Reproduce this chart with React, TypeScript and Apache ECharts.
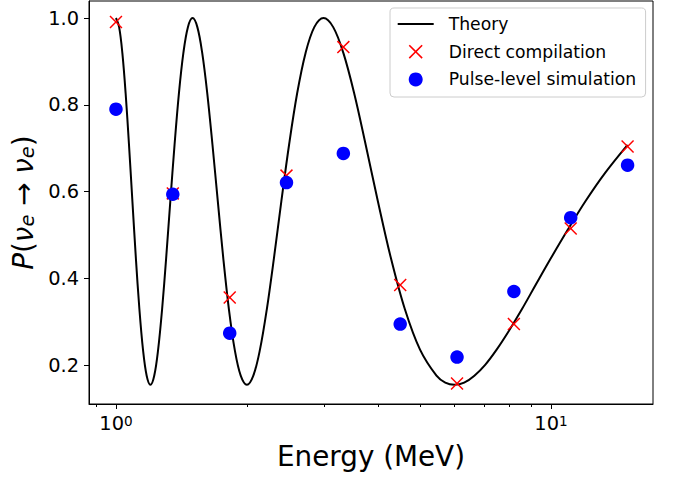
import React, { useEffect, useRef } from "react";
import * as echarts from "echarts";

// Measurement energies (MeV)
const energies = [1.0, 1.351, 1.826, 2.466, 3.332, 4.502, 6.082, 8.217, 11.1, 15.0];
// Direct compilation results
const directP = [0.991, 0.596, 0.356, 0.637, 0.933, 0.385, 0.158, 0.295, 0.515, 0.704];
// Pulse-level simulation results
const pulseP = [0.79, 0.594, 0.274, 0.621, 0.688, 0.295, 0.219, 0.37, 0.54, 0.661];

// Theory curve
const theoryE = [
  1.0, 1.0169, 1.0345, 1.0526, 1.0714, 1.0909, 1.1111, 1.1321, 1.1538, 1.1765, 1.2,
  1.2245, 1.25, 1.2766, 1.3043, 1.3333, 1.3636, 1.3953, 1.4286, 1.4634, 1.5,
  1.5385, 1.5789, 1.6216, 1.6667, 1.7143, 1.7647, 1.8182, 1.875, 1.9355, 2.0,
  2.069, 2.1429, 2.2222, 2.3077, 2.4, 2.5, 2.6087, 2.7273, 2.8571, 3.0,
  3.1579, 3.3333, 3.5294, 3.75, 4.0, 4.2857, 4.6154, 5.0, 5.4545, 5.7143, 6.0,
  6.3158, 6.6667, 7.0588, 7.5, 8.0, 8.5714, 9.2308, 10.0, 10.909, 12.0, 13.333, 15.0,
];
const theoryP = [
  1.0, 0.979, 0.919, 0.826, 0.708, 0.578, 0.447, 0.329, 0.236, 0.176, 0.155,
  0.176, 0.236, 0.329, 0.447, 0.578, 0.708, 0.826, 0.919, 0.979, 1.0,
  0.979, 0.919, 0.826, 0.708, 0.578, 0.447, 0.329, 0.236, 0.176, 0.155,
  0.176, 0.236, 0.329, 0.447, 0.578, 0.708, 0.826, 0.919, 0.979, 1.0,
  0.979, 0.919, 0.826, 0.708, 0.578, 0.447, 0.329, 0.236, 0.176, 0.16, 0.155,
  0.16, 0.176, 0.201, 0.236, 0.279, 0.329, 0.386, 0.447, 0.511, 0.578, 0.644, 0.708,
];

const yTicks = [0.2, 0.4, 0.6, 0.8, 1.0];
const xMajorTicks = [1, 10];
const xMinorTicks = [0.9, 2, 3, 4, 5, 6, 7, 8, 9];

const X_MIN = 0.867;
const X_MAX = 17.16;
const Y_MIN = 0.1108;
const Y_MAX = 1.0392;

const FONT = "DejaVu Sans";
const X_PATH =
  "path://M0,8 L8,0 L50,42 L92,0 L100,8 L58,50 L100,92 L92,100 L50,58 L8,100 L0,92 L42,50 Z";

export default function App() {
  const ref = useRef<HTMLDivElement>(null);

  useEffect(() => {
    document.body.style.margin = "0";
    if (!ref.current) return;
    const chart = echarts.init(ref.current, null, { renderer: "svg" });
    const option: any = {
      animation: false,
      textStyle: { fontFamily: FONT },
      grid: {
        left: 89,
        right: 23,
        top: 1,
        bottom: 73,
        show: true,
        borderColor: "#000",
        borderWidth: 1,
        backgroundColor: "transparent",
      },
      legend: {
        orient: "vertical",
        left: 390,
        top: 8,
        itemWidth: 36,
        itemHeight: 14,
        itemGap: 10.5,
        padding: [7.4, 9.5, 9, 6.7],
        backgroundColor: "rgba(255,255,255,0.8)",
        borderColor: "#cccccc",
        borderWidth: 1,
        borderRadius: 4,
        textStyle: {
          fontFamily: FONT,
          fontSize: 17.2,
          lineHeight: 17.2,
          color: "#000",
          padding: [0, 0, 0, 10],
        },
        data: [
          { name: "Theory", itemStyle: { opacity: 0 } },
          "Direct compilation",
          "Pulse-level simulation",
        ],
      },
      xAxis: {
        type: "log",
        logBase: 10,
        min: X_MIN,
        max: X_MAX,
        name: "Energy (MeV)",
        nameLocation: "middle",
        nameGap: 38,
        nameTextStyle: { fontFamily: FONT, fontSize: 27.8, color: "#000" },
        axisLine: { show: true, lineStyle: { color: "#000", width: 1 } },
        axisTick: { show: false },
        minorTick: { show: false },
        splitLine: { show: false },
        minorSplitLine: { show: false },
        axisLabel: {
          showMinLabel: false,
          showMaxLabel: false,
          margin: 10,
          formatter: (v: number) => {
            const p = Math.round(Math.log10(v));
            if (Math.abs(Math.log10(v) - p) > 1e-6) return "";
            return "{b|10}{s|" + p + "}";
          },
          rich: {
            b: { fontFamily: FONT, fontSize: 19.4, lineHeight: 19.4, color: "#000" },
            s: {
              fontFamily: FONT,
              fontSize: 13.6,
              lineHeight: 12,
              verticalAlign: "top",
              color: "#000",
            },
          },
        },
      },
      yAxis: {
        type: "value",
        min: Y_MIN,
        max: Y_MAX,
        name: "{i|P}{n|(}{i|ν}{s|e}{n| → }{i|ν}{s|e}{n|)}",
        nameLocation: "middle",
        nameRotate: 90,
        nameGap: 52,
        nameTextStyle: {
          fontFamily: FONT,
          fontSize: 27.8,
          color: "#000",
          rich: {
            i: { fontFamily: FONT, fontSize: 27.8, lineHeight: 28, fontStyle: "italic", color: "#000" },
            n: { fontFamily: FONT, fontSize: 27.8, lineHeight: 28, color: "#000" },
            s: {
              fontFamily: FONT,
              fontSize: 19.5,
              lineHeight: 12,
              fontStyle: "italic",
              verticalAlign: "bottom",
              color: "#000",
            },
          },
        },
        axisLine: { show: true, lineStyle: { color: "#000", width: 1 } },
        axisTick: {
          show: true,
          customValues: yTicks,
          length: 5,
          lineStyle: { color: "#000", width: 1 },
        },
        splitLine: { show: false },
        axisLabel: {
          customValues: yTicks,
          margin: 10,
          fontFamily: FONT,
          fontSize: 19.4,
          color: "#000",
          formatter: (v: number) => v.toFixed(1),
        },
      },
      series: [
        {
          name: "Theory",
          type: "line",
          data: theoryE.map((e, i) => [e, theoryP[i]]),
          showSymbol: false,
          symbol: "none",
          smooth: 0.35,
          lineStyle: { color: "#000", width: 2 },
          itemStyle: { color: "#000" },
          z: 2,
        },
        {
          name: "Direct compilation",
          type: "scatter",
          data: energies.map((e, i) => [e, directP[i]]),
          symbol: X_PATH,
          symbolSize: 13,
          itemStyle: { color: "#ff0000", opacity: 1 },
          z: 3,
        },
        {
          name: "Pulse-level simulation",
          type: "scatter",
          data: energies.map((e, i) => [e, pulseP[i]]),
          symbol: "circle",
          symbolSize: 13.5,
          itemStyle: { color: "#0000ff", opacity: 1 },
          z: 4,
        },
      ],
    };
    chart.setOption(option);

    const graphics: any[] = [];
    const addTick = (v: number, len: number) => {
      const p = chart.convertToPixel({ gridIndex: 0 }, [v, Y_MIN]) as number[];
      if (!p) return;
      const x = Math.round(p[0]) + 0.5;
      const y = Math.round(p[1]);
      graphics.push({
        type: "line",
        silent: true,
        shape: { x1: x, y1: y, x2: x, y2: y + len },
        style: { stroke: "#000", lineWidth: 1 },
      });
    };
    xMajorTicks.forEach((v) => addTick(v, 5));
    xMinorTicks.forEach((v) => addTick(v, 3));
    chart.setOption({ graphic: graphics });

    return () => chart.dispose();
  }, []);

  return (
    <div
      ref={ref}
      style={{ position: "fixed", left: 0, top: 0, width: 676, height: 477, background: "#fff" }}
    />
  );
}
